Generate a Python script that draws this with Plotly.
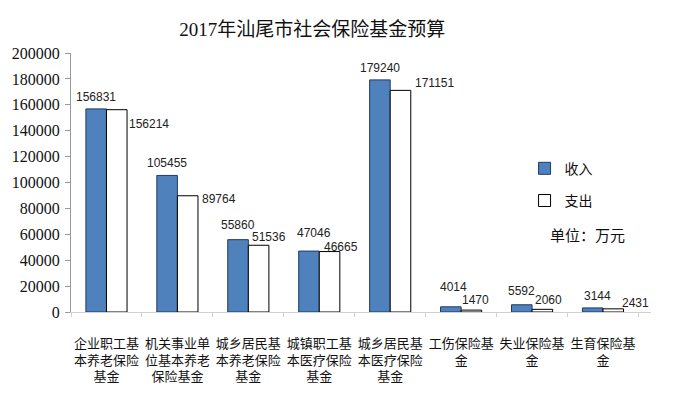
import plotly.graph_objects as go

categories = [
    "企业职工基<br>本养老保险<br>基金",
    "机关事业单<br>位基本养老<br>保险基金",
    "城乡居民基<br>本养老保险<br>基金",
    "城镇职工基<br>本医疗保险<br>基金",
    "城乡居民基<br>本医疗保险<br>基金",
    "工伤保险基<br>金",
    "失业保险基<br>金",
    "生育保险基<br>金",
]
income = [156831, 105455, 55860, 47046, 179240, 4014, 5592, 3144]
expense = [156214, 89764, 51536, 46665, 171151, 1470, 2060, 2431]
y_ticks = [0, 20000, 40000, 60000, 80000, 100000, 120000, 140000, 160000, 180000, 200000]

# label placement offsets (px) relative to bar top-centre
inc_dx = [0, 0, 0, 5, 0, 3, 0, 5]
inc_dy = [12, 12, 15, 18, 12, 20, 14, 12]
exp_dx = [32, 31, 10, 11, 34, 4, 6, 22]
exp_dy = [-14, -3, 8, 5, 7, 10, 9, 6]
half_bar = 10.5

fig = go.Figure()
fig.add_trace(go.Bar(
    x=categories, y=income, name="收入", legendgroup="a",
    marker=dict(color="#4F81BD", line=dict(color="#1F3A5F", width=1)),
))
fig.add_trace(go.Bar(
    x=categories, y=expense, name="支出", legendgroup="b",
    marker=dict(color="#FFFFFF", line=dict(color="#000000", width=1)),
))

lab_font = dict(family="Liberation Sans, Arial, sans-serif", size=12, color="#222222")
for i, c in enumerate(categories):
    fig.add_annotation(x=c, y=income[i], text=str(income[i]), showarrow=False,
                       xshift=-half_bar + inc_dx[i], yshift=inc_dy[i], font=lab_font)
    fig.add_annotation(x=c, y=expense[i], text=str(expense[i]), showarrow=False,
                       xshift=half_bar + exp_dx[i], yshift=exp_dy[i], font=lab_font)

fig.add_annotation(xref="paper", yref="paper", x=0.891, y=0.3, xanchor="center", yanchor="middle",
                   text="单位：万元", showarrow=False,
                   font=dict(family="Noto Sans CJK SC", size=15, color="#111111"))

fig.update_layout(
    width=673, height=396,
    margin=dict(l=71, r=22, t=53, b=84),
    paper_bgcolor="white", plot_bgcolor="white",
    barmode="group", bargap=0.42, bargroupgap=0,
    title=dict(text="2017年汕尾市社会保险基金预算", x=0.464, xanchor="center",
               y=0.926, yanchor="middle",
               font=dict(family="Liberation Serif, Noto Sans CJK SC", size=19, color="#111111")),
    legend=dict(x=0.782, y=0.615, xanchor="left", yanchor="top",
                font=dict(family="Noto Sans CJK SC", size=14, color="#111111"),
                tracegroupgap=11, bgcolor="rgba(0,0,0,0)"),
    showlegend=True,
)
fig.update_xaxes(
    showline=True, linecolor="#D0D0D0", linewidth=1,
    ticks="outside", tickson="boundaries", ticklen=4, tickcolor="#D0D0D0",
    tickfont=dict(family="Noto Sans CJK SC", size=13, color="#111111"),
    tickangle=0, ticklabelstandoff=19,
)
fig.update_yaxes(
    range=[0, 200000], tickvals=y_ticks, ticktext=[str(v) for v in y_ticks],
    showline=True, linecolor="#9A9A9A", linewidth=1,
    ticks="outside", ticklen=5, tickcolor="#9A9A9A", ticklabelstandoff=2,
    showgrid=False, zeroline=False,
    tickfont=dict(family="Liberation Serif, Times New Roman, serif", size=16, color="#111111"),
)

fig.write_html("out.html", config={"displayModeBar": False},
               post_script="document.body.style.margin='0';")
